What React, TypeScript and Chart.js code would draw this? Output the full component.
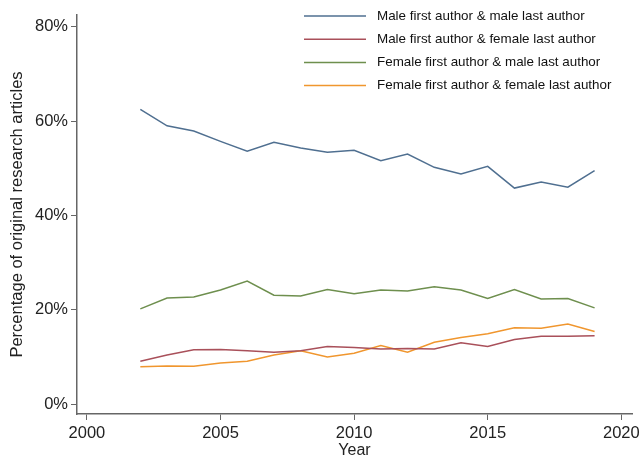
import React, { useEffect, useRef } from "react";
import { Chart, registerables } from "chart.js";

Chart.register(...registerables);

const years = [2002, 2003, 2004, 2005, 2006, 2007, 2008, 2009, 2010, 2011, 2012, 2013, 2014, 2015, 2016, 2017, 2018, 2019];
const maleMale = [62.5, 59.0, 57.9, 55.7, 53.6, 55.5, 54.3, 53.4, 53.8, 51.6, 53.0, 50.2, 48.8, 50.4, 45.8, 47.1, 46.0, 49.5];
const maleFemale = [9.1, 10.4, 11.5, 11.6, 11.3, 11.0, 11.3, 12.2, 12.0, 11.7, 11.8, 11.7, 13.0, 12.2, 13.7, 14.4, 14.4, 14.5];
const femaleMale = [20.2, 22.5, 22.7, 24.2, 26.1, 23.1, 22.9, 24.3, 23.4, 24.2, 24.0, 24.9, 24.2, 22.4, 24.3, 22.3, 22.4, 20.4];
const femaleFemale = [7.9, 8.1, 8.0, 8.7, 9.1, 10.4, 11.3, 10.0, 10.8, 12.4, 11.0, 13.1, 14.1, 14.9, 16.2, 16.1, 17.0, 15.4];
const seriesLabels = [
  "Male first author & male last author",
  "Male first author & female last author",
  "Female first author & male last author",
  "Female first author & female last author",
];
const seriesColors = ["#4f6f90", "#a9505a", "#6e8f4e", "#f0962e"];
const xTicks = [2000, 2005, 2010, 2015, 2020];
const yTicks = [0, 20, 40, 60, 80];

const FONT = "'Liberation Sans', Arial, sans-serif";

const legendPlugin = {
  id: "customLegend",
  afterDraw(chart: any) {
    const ctx = chart.ctx;
    ctx.save();
    chart.data.datasets.forEach((ds: any, i: number) => {
      const y = 16 + i * 23.2;
      ctx.strokeStyle = ds.borderColor;
      ctx.lineWidth = 1.5;
      ctx.beginPath();
      ctx.moveTo(304, y);
      ctx.lineTo(366, y);
      ctx.stroke();
      ctx.fillStyle = "#111";
      ctx.font = `13.4px ${FONT}`;
      ctx.textBaseline = "middle";
      ctx.textAlign = "left";
      ctx.fillText(ds.label, 377, y);
    });
    ctx.restore();
  },
};

export default function App() {
  const ref = useRef<HTMLCanvasElement>(null);
  useEffect(() => {
    if (!ref.current) return;
    const allSeries = [maleMale, maleFemale, femaleMale, femaleFemale];
    const chart = new Chart(ref.current, {
      type: "line",
      data: {
        datasets: allSeries.map((s, i) => ({
          label: seriesLabels[i],
          data: years.map((y, j) => ({ x: y, y: s[j] })),
          borderColor: seriesColors[i],
          backgroundColor: seriesColors[i],
          borderWidth: 1.5,
          pointRadius: 0,
          tension: 0,
          fill: false,
        })),
      },
      options: {
        responsive: false,
        animation: false,
        layout: { padding: { top: 15, right: 9, left: 0, bottom: 0 } },
        plugins: { legend: { display: false }, tooltip: { enabled: false } },
        scales: {
          x: {
            type: "linear",
            min: 1999.63,
            max: 2020.4,
            afterBuildTicks: (s: any) => {
              s.ticks = xTicks.map((v) => ({ value: v }));
            },
            afterFit: (s: any) => {
              s.height = 46;
              s.paddingLeft = 0;
              s.paddingRight = 0;
            },
            grid: { drawOnChartArea: false, drawTicks: true, tickLength: 6, color: "#666" },
            border: { display: true, color: "#666", width: 1.5 },
            ticks: {
              color: "#222",
              font: { family: FONT, size: 16.5 },
              padding: 4,
              maxRotation: 0,
              callback: (v: any) => String(v),
            },
            title: {
              display: true,
              text: "Year",
              color: "#222",
              font: { family: FONT, size: 16 },
              padding: { top: -4, bottom: 0 },
            },
          },
          y: {
            type: "linear",
            min: -2.1,
            max: 82.5,
            afterBuildTicks: (s: any) => {
              s.ticks = yTicks.map((v) => ({ value: v }));
            },
            afterFit: (s: any) => {
              s.width = 77;
              s.paddingTop = 0;
              s.paddingBottom = 0;
            },
            grid: { drawOnChartArea: false, drawTicks: true, tickLength: 6, color: "#666" },
            border: { display: true, color: "#666", width: 1.5 },
            ticks: {
              color: "#222",
              font: { family: FONT, size: 16.5 },
              padding: 3,
              callback: (v: any) => v + "%",
            },
            title: {
              display: true,
              text: "Percentage of original research articles",
              color: "#222",
              font: { family: FONT, size: 16.5 },
              padding: { top: 8, bottom: 4 },
            },
          },
        },
      },
      plugins: [legendPlugin],
    });
    return () => chart.destroy();
  }, []);
  return (
    <div style={{ position: "fixed", left: 0, top: 0, width: 641, height: 460, background: "#fff" }}>
      <canvas ref={ref} width={641} height={460} style={{ display: "block" }} />
    </div>
  );
}
